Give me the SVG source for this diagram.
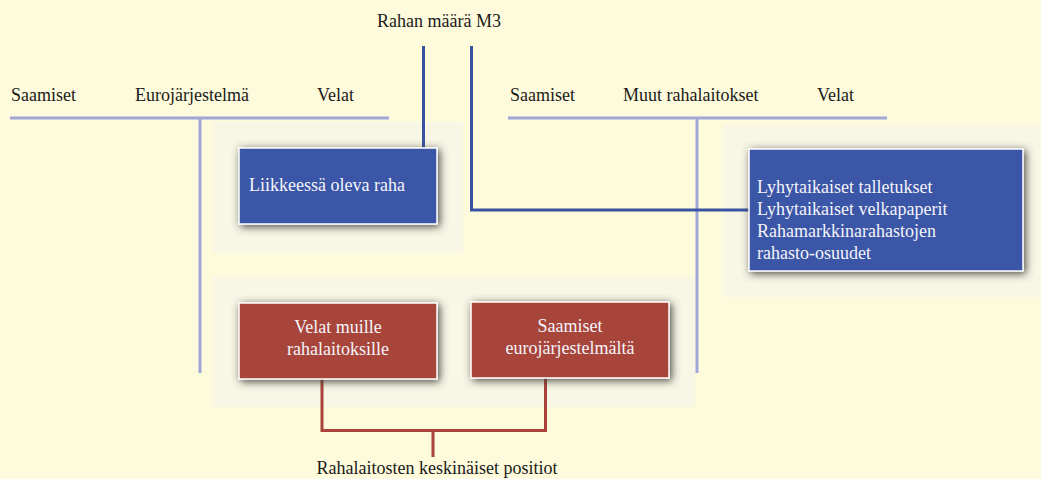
<svg xmlns="http://www.w3.org/2000/svg" width="1041" height="479" viewBox="0 0 1041 479">
<defs>
<style>
text{font-family:"Liberation Serif","Times New Roman",serif;font-size:18px}
.dark{fill:#1a1a1a}
.light{fill:#f4f4fa}
.panel{fill:#f8f7e6}
.blue{fill:#3a57a6;stroke:#ffffff;stroke-width:1.5}
.red{fill:#a8443b;stroke:#ffffff;stroke-width:1.5}
.tline{stroke:#a0a6d6;stroke-width:3;fill:none}
.bline{stroke:#3a52a2;stroke-width:3;fill:none}
.rline{stroke:#a8443b;stroke-width:3;fill:none}
</style>
<filter id="sh" x="-20%" y="-30%" width="140%" height="160%">
<feDropShadow dx="2" dy="2" stdDeviation="4" flood-color="#3e3e36" flood-opacity="0.95"/>
</filter>
</defs>
<rect width="1041" height="479" fill="#fefadc"/>
<g id="panels">
<rect class="panel" x="213" y="122" width="250" height="131"/>
<rect class="panel" x="723" y="125" width="318" height="172"/>
<rect class="panel" x="213" y="277" width="482" height="130"/>
</g>
<g id="taccounts">
<line class="tline" x1="10" y1="118" x2="389" y2="118"/>
<line class="tline" x1="200" y1="118" x2="200" y2="373"/>
<line class="tline" x1="508" y1="118" x2="887" y2="118"/>
<line class="tline" x1="697" y1="118" x2="697" y2="373"/>
<text class="dark" x="11" y="101">Saamiset</text>
<text class="dark" x="135" y="101">Eurojärjestelmä</text>
<text class="dark" x="317" y="101">Velat</text>
<text class="dark" x="510" y="101">Saamiset</text>
<text class="dark" x="623" y="101">Muut rahalaitokset</text>
<text class="dark" x="817" y="101">Velat</text>
</g>
<g id="connectors">
<polyline class="bline" points="423.5,46 423.5,148"/>
<polyline class="bline" points="471.5,46 471.5,210 749,210"/>
<polyline class="rline" points="322,379 322,430.5 545.5,430.5 545.5,378"/>
<line class="rline" x1="433" y1="430" x2="433" y2="457"/>
</g>
<g id="m3-label">
<text class="dark" x="377" y="27">Rahan määrä M3</text>
</g>
<g id="liikkeessa">
<rect class="blue" x="239" y="148" width="198" height="76" filter="url(#sh)"/>
<text class="light" x="249" y="191">Liikkeessä oleva raha</text>
</g>
<g id="lyhytaikaiset">
<rect class="blue" x="749" y="149" width="274" height="122" filter="url(#sh)"/>
<text class="light" x="757" y="193">Lyhytaikaiset talletukset</text>
<text class="light" x="757" y="215">Lyhytaikaiset velkapaperit</text>
<text class="light" x="757" y="237">Rahamarkkinarahastojen</text>
<text class="light" x="757" y="259">rahasto-osuudet</text>
</g>
<g id="velat-muille">
<rect class="red" x="239" y="303" width="198" height="76" filter="url(#sh)"/>
<text class="light" x="338" y="333" text-anchor="middle">Velat muille</text>
<text class="light" x="338" y="355" text-anchor="middle">rahalaitoksille</text>
</g>
<g id="saamiset-euro">
<rect class="red" x="471" y="302" width="198" height="76" filter="url(#sh)"/>
<text class="light" x="570" y="332" text-anchor="middle">Saamiset</text>
<text class="light" x="570" y="354" text-anchor="middle">eurojärjestelmältä</text>
</g>
<g id="positiot-label">
<text class="dark" x="437" y="474" text-anchor="middle">Rahalaitosten keskinäiset positiot</text>
</g>
</svg>
